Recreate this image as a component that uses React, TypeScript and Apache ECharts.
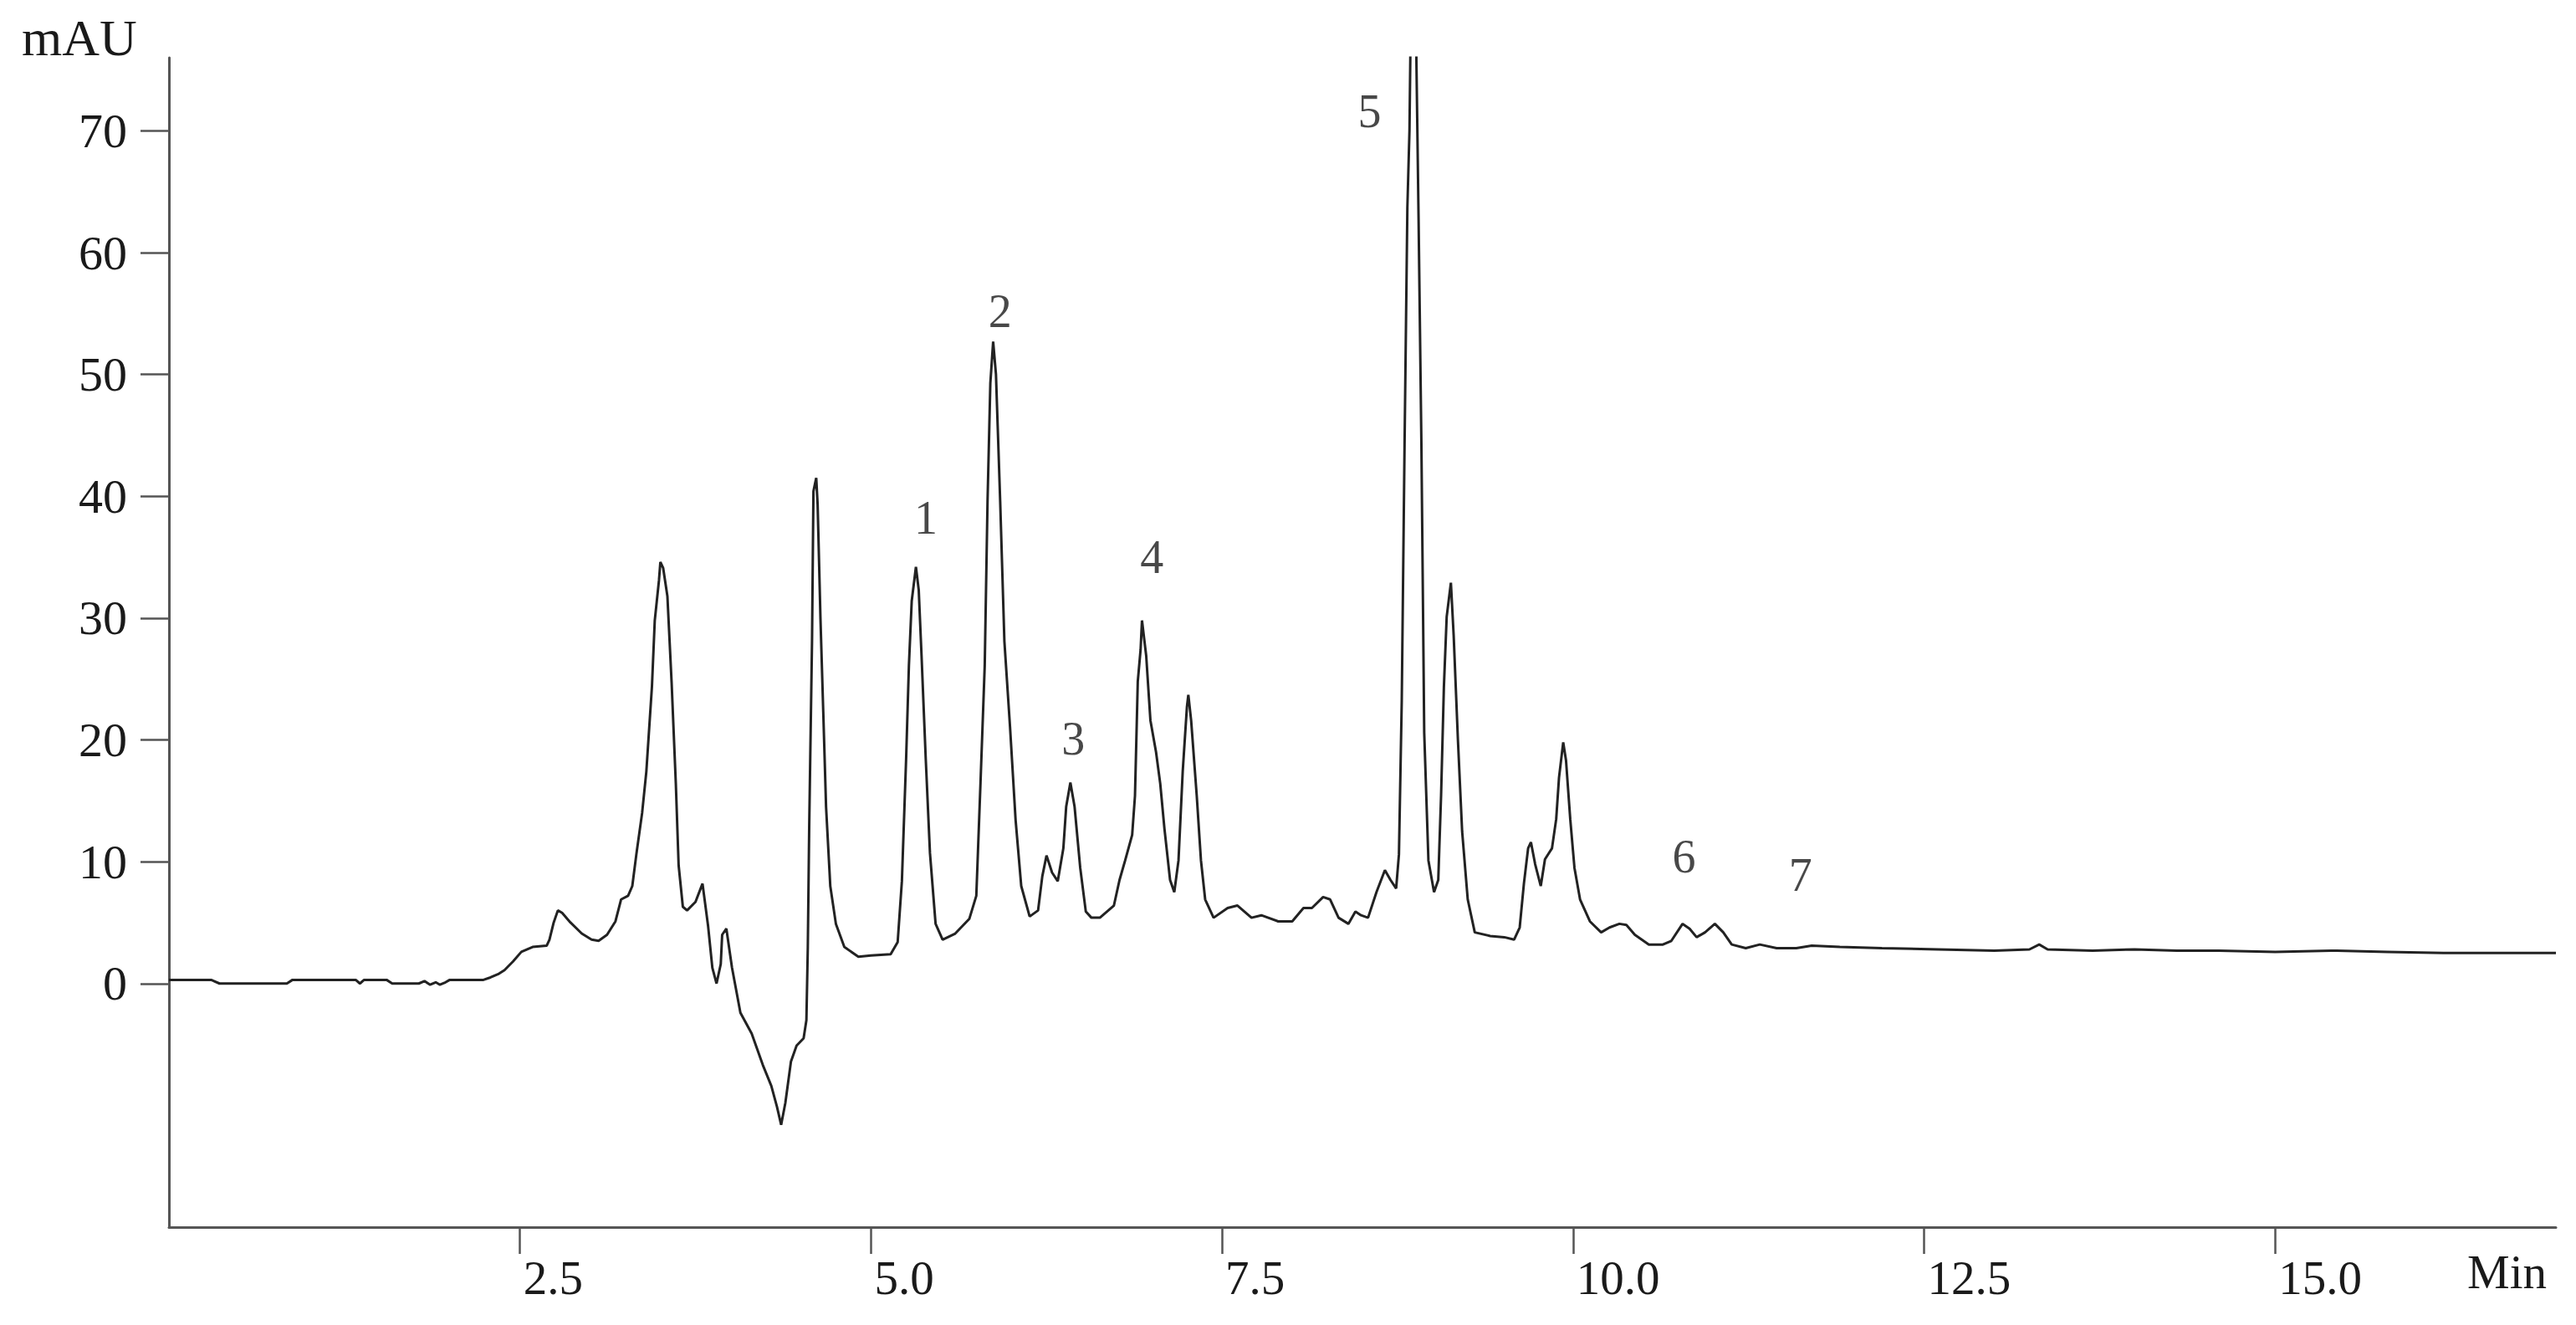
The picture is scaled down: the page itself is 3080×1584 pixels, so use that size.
import React, { useEffect, useRef } from "react";
import * as echarts from "echarts";

// Retention time (min) and absorbance (mAU) pairs
const chromatogram: [number, number][] = [
  [0.0, 0.3], [0.3, 0.3], [0.36, 0.0], [0.84, 0.0], [0.88, 0.3], [1.33, 0.3], [1.36, 0.0], [1.39, 0.3],
  [1.55, 0.3], [1.59, 0.0], [1.78, 0.0], [1.82, 0.2], [1.86, -0.1], [1.9, 0.1], [1.93, -0.1], [1.97, 0.1],
  [2.0, 0.3], [2.24, 0.3], [2.29, 0.5], [2.35, 0.8], [2.39, 1.1], [2.45, 1.8], [2.51, 2.6], [2.59, 3.0],
  [2.69, 3.1], [2.71, 3.6], [2.74, 5.0], [2.77, 6.0], [2.8, 5.8], [2.86, 5.0], [2.94, 4.1], [3.01, 3.6],
  [3.06, 3.5], [3.12, 4.0], [3.18, 5.1], [3.22, 6.9], [3.27, 7.2], [3.3, 8.0], [3.33, 10.7], [3.37, 14.0],
  [3.4, 17.4], [3.44, 24.4], [3.46, 29.8], [3.49, 33.1], [3.5, 34.6], [3.52, 34.1], [3.55, 31.8], [3.58, 24.7],
  [3.61, 16.4], [3.63, 9.7], [3.66, 6.3], [3.69, 6.0], [3.75, 6.7], [3.8, 8.2], [3.84, 4.7], [3.87, 1.3],
  [3.9, 0.0], [3.93, 1.6], [3.94, 4.0], [3.97, 4.5], [4.01, 1.3], [4.07, -2.4], [4.15, -4.1], [4.23, -6.7],
  [4.29, -8.4], [4.33, -10.1], [4.36, -11.6], [4.39, -9.8], [4.43, -6.4], [4.47, -5.1], [4.52, -4.5], [4.54, -3.0],
  [4.55, 3.0], [4.56, 13.0], [4.58, 28.1], [4.59, 40.4], [4.61, 41.5], [4.62, 39.3], [4.64, 30.0], [4.66, 22.3],
  [4.68, 14.5], [4.71, 8.0], [4.75, 4.9], [4.81, 3.0], [4.91, 2.2], [5.0, 2.3], [5.14, 2.4], [5.19, 3.4],
  [5.22, 8.4], [5.25, 18.4], [5.27, 26.1], [5.29, 31.4], [5.32, 34.2], [5.34, 32.3], [5.36, 26.9], [5.39, 18.4],
  [5.42, 10.7], [5.46, 4.9], [5.51, 3.6], [5.6, 4.1], [5.7, 5.3], [5.75, 7.2], [5.78, 16.5], [5.81, 26.1],
  [5.83, 39.6], [5.85, 49.3], [5.87, 52.7], [5.89, 50.0], [5.92, 39.6], [5.95, 28.1], [5.99, 21.1], [6.03, 13.4],
  [6.07, 8.0], [6.13, 5.5], [6.19, 6.0], [6.22, 8.8], [6.25, 10.5], [6.29, 9.1], [6.33, 8.4], [6.37, 11.1],
  [6.39, 14.5], [6.42, 16.5], [6.45, 14.5], [6.49, 9.5], [6.53, 5.9], [6.57, 5.4], [6.63, 5.4], [6.73, 6.4],
  [6.77, 8.5], [6.81, 10.1], [6.86, 12.2], [6.88, 15.4], [6.9, 24.8], [6.92, 27.4], [6.93, 29.8], [6.96, 26.9],
  [6.99, 21.6], [7.03, 19.0], [7.06, 16.4], [7.09, 12.7], [7.13, 8.5], [7.16, 7.5], [7.19, 10.1], [7.22, 17.4],
  [7.25, 22.7], [7.26, 23.7], [7.28, 21.6], [7.32, 15.4], [7.35, 10.1], [7.38, 6.9], [7.44, 5.4], [7.54, 6.2],
  [7.61, 6.4], [7.71, 5.4], [7.78, 5.6], [7.9, 5.1], [8.0, 5.1], [8.08, 6.2], [8.14, 6.2], [8.22, 7.1],
  [8.27, 6.9], [8.33, 5.4], [8.4, 4.9], [8.45, 5.9], [8.49, 5.6], [8.54, 5.4], [8.6, 7.5], [8.66, 9.3],
  [8.7, 8.5], [8.74, 7.8], [8.76, 10.6], [8.78, 23.2], [8.8, 44.2], [8.82, 63.7], [8.835, 70.0], [8.845, 80.0],
  [8.88, 80.0], [8.885, 75.2], [8.9, 62.6], [8.92, 44.2], [8.94, 20.6], [8.97, 10.1], [9.01, 7.5], [9.04, 8.5],
  [9.06, 15.4], [9.08, 24.3], [9.1, 30.1], [9.13, 32.9], [9.15, 28.5], [9.18, 20.0], [9.21, 12.5], [9.25, 6.9],
  [9.3, 4.2], [9.41, 3.9], [9.51, 3.8], [9.58, 3.6], [9.62, 4.6], [9.65, 8.2], [9.68, 11.1], [9.7, 11.6],
  [9.73, 9.8], [9.77, 8.0], [9.8, 10.2], [9.85, 11.1], [9.88, 13.5], [9.9, 16.9], [9.93, 19.8], [9.95, 18.3],
  [9.98, 13.5], [10.01, 9.5], [10.05, 6.9], [10.12, 5.1], [10.2, 4.2], [10.26, 4.6], [10.33, 4.9], [10.38, 4.8],
  [10.44, 4.0], [10.54, 3.2], [10.64, 3.2], [10.7, 3.5], [10.78, 4.9], [10.83, 4.5], [10.88, 3.8], [10.94, 4.2],
  [11.01, 4.9], [11.07, 4.2], [11.13, 3.2], [11.23, 2.9], [11.33, 3.2], [11.45, 2.9], [11.59, 2.9], [11.7, 3.1],
  [11.9, 3.0], [12.2, 2.9], [12.6, 2.8], [13.0, 2.7], [13.25, 2.8], [13.32, 3.2], [13.38, 2.8], [13.7, 2.7],
  [14.0, 2.8], [14.3, 2.7], [14.6, 2.7], [15.0, 2.6], [15.4, 2.7], [15.8, 2.6], [16.2, 2.5], [16.6, 2.5],
  [17.0, 2.5],
];

// Peak numbers and where they sit (time, mAU)
const peakNames = ["1", "2", "3", "4", "5", "6", "7"];
const peakLabelPos: [number, number][] = [
  [5.39, 38.2], [5.92, 55.2], [6.44, 20.1], [7.0, 35.0], [8.55, 71.6], [10.79, 10.4], [11.62, 8.9],
];

const xTicks = [2.5, 5.0, 7.5, 10.0, 12.5, 15.0];
const yTicks = [0, 10, 20, 30, 40, 50, 60, 70];
const xRange = [0, 17];
const yRange = [-20, 76];

const FONT = "'Liberation Serif', 'Times New Roman', serif";
const AXIS_COLOR = "#555555";
const TEXT_COLOR = "#1a1a1a";

export default function App() {
  const ref = useRef<HTMLDivElement>(null);

  useEffect(() => {
    if (!ref.current) return;
    const chart = echarts.init(ref.current, undefined, { renderer: "svg" });
    chart.setOption({
      animation: false,
      backgroundColor: "#ffffff",
      grid: { left: 202, right: 24, top: 69, bottom: 117, outerBoundsMode: "none" },
      xAxis: {
        type: "value",
        min: xRange[0],
        max: xRange[1],
        splitLine: { show: false },
        axisLine: { show: true, onZero: false, lineStyle: { color: AXIS_COLOR, width: 3 } },
        axisTick: {
          show: true,
          length: 32,
          customValues: xTicks,
          lineStyle: { color: AXIS_COLOR, width: 2.5 },
        },
        axisLabel: {
          show: true,
          customValues: xTicks,
          formatter: (v: number) => v.toFixed(1),
          align: "left",
          verticalAlign: "middle",
          margin: 60,
          padding: [0, 0, 0, 4],
          color: TEXT_COLOR,
          fontFamily: FONT,
          fontSize: 57,
        },
      },
      yAxis: {
        type: "value",
        min: yRange[0],
        max: yRange[1],
        splitLine: { show: false },
        axisLine: { show: true, onZero: false, lineStyle: { color: AXIS_COLOR, width: 3 } },
        axisTick: {
          show: true,
          length: 34,
          customValues: yTicks,
          lineStyle: { color: AXIS_COLOR, width: 2.5 },
        },
        axisLabel: {
          show: true,
          customValues: yTicks,
          margin: 50,
          color: TEXT_COLOR,
          fontFamily: FONT,
          fontSize: 58,
        },
      },
      graphic: [
        {
          type: "text",
          left: 26,
          top: 14,
          style: { text: "mAU", font: `62px ${FONT}`, fill: TEXT_COLOR },
        },
        {
          type: "text",
          left: 2950,
          top: 1492,
          style: { text: "Min", font: `57px ${FONT}`, fill: TEXT_COLOR },
        },
      ],
      series: [
        {
          type: "line",
          data: chromatogram,
          showSymbol: false,
          symbol: "none",
          smooth: false,
          clip: true,
          lineStyle: { color: "#222222", width: 3 },
          silent: true,
        },
        {
          type: "scatter",
          data: peakNames.map((n, i) => ({ name: n, value: peakLabelPos[i] })),
          symbol: "circle",
          symbolSize: 1,
          itemStyle: { color: "rgba(0,0,0,0)" },
          label: {
            show: true,
            position: "inside",
            formatter: "{b}",
            color: TEXT_COLOR,
            fontFamily: FONT,
            fontSize: 56,
          },
          silent: true,
        },
      ],
    });
    return () => chart.dispose();
  }, []);

  return (
    <div
      ref={ref}
      style={{ position: "fixed", left: 0, top: 0, width: 3080, height: 1584, background: "#fff" }}
    />
  );
}
